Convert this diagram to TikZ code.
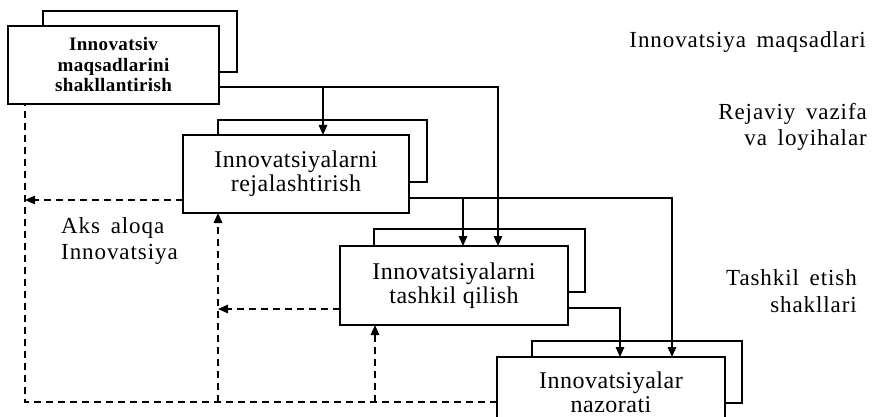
\documentclass[tikz,border=0pt]{standalone}
\usepackage{fontspec}
\setmainfont{Liberation Serif}[LetterSpace=2.0]
\newfontfamily\sidefont{Liberation Serif}[LetterSpace=4.0,WordSpace=1.6]
\usetikzlibrary{arrows.meta}

\tikzset{
  backbox/.style={draw, line width=1.5pt, inner sep=0pt, outer sep=0pt, anchor=north west},
  frontbox/.style={backbox, fill=white, align=center, font=\fontsize{24}{24}\selectfont},
  flow/.style={line width=1.5pt, -{Triangle[length=10pt,width=8.5pt]}},
  fbline/.style={line width=1.5pt, dash pattern=on 7pt off 5pt},
  feedback/.style={flow, dash pattern=on 7pt off 5pt},
  sidetext/.style={inner sep=0pt, font=\sidefont\fontsize{23}{26.5}\selectfont}
}

\begin{document}
\begin{tikzpicture}[x=1pt,y=-1pt]
  \useasboundingbox (0,0) rectangle (880,417);
  \clip (0,0) rectangle (880,417);
  % shadow boxes
  \node[backbox, minimum width=194pt, minimum height=61pt] (b1s) at (43,11) {};
  \node[backbox, minimum width=209pt, minimum height=62pt] (b2s) at (218,120) {};
  \node[backbox, minimum width=211pt, minimum height=63pt] (b3s) at (374,229) {};
  \node[backbox, minimum width=210pt, minimum height=62pt] (b4s) at (532,341) {};
  % stages
  \node[frontbox, minimum width=211pt, minimum height=78pt,
    font=\bfseries\fontsize{19}{20.5}\selectfont] (b1) at (8,26)
    {Innovatsiv\\maqsadlarini\\shakllantirish};
  \node[frontbox, minimum width=226pt, minimum height=78pt] (b2) at (183,135)
    {Innovatsiyalarni\\rejalashtirish};
  \node[frontbox, minimum width=228pt, minimum height=79pt] (b3) at (340,246)
    {Innovatsiyalarni\\tashkil qilish};
  \node[frontbox, minimum width=228pt, minimum height=70pt] (b4) at (497,357)
    {Innovatsiyalar\\nazorati};

  \coordinate (b1out) at ([yshift=17pt]b1.south east);
  \coordinate (b2out) at ([yshift=15pt]b2.south east);
  \coordinate (b3out) at ([yshift=17pt]b3.south east);
  \coordinate (in2) at ([xshift=140pt]b2.north west);
  \coordinate (in3a) at ([xshift=123pt]b3.north west);
  \coordinate (in3b) at ([xshift=158pt]b3.north west);
  \coordinate (in4a) at ([xshift=123pt]b4.north west);
  \coordinate (in4b) at ([xshift=175pt]b4.north west);

  \draw[flow] (b1out) -| (in3b);
  \draw[flow] (in2 |- b1out) -- (in2);
  \draw[flow] (b2out) -| (in4b);
  \draw[flow] (in3a |- b2out) -- (in3a);
  \draw[flow] (b3out) -| (in4a);

  % feedback
  \coordinate (loop) at (25,402);
  \coordinate (fb1) at ([xshift=17pt]b1.south west);
  \coordinate (fb2) at ([xshift=35pt]b2.south west);
  \coordinate (fb3) at ([xshift=35pt]b3.south west);
  \coordinate (ret2) at ([yshift=13pt]b2.south west);
  \coordinate (ret3) at ([yshift=16pt]b3.south west);
  \draw[fbline] (b4.west |- loop) -| (fb1);
  \draw[feedback] (fb2 |- loop) -- (fb2);
  \draw[feedback] (fb3 |- loop) -- (fb3);
  \draw[feedback] (ret2) -- (fb1 |- ret2);
  \draw[feedback] (ret3) -- (fb2 |- ret3);

  \node[sidetext, anchor=base east] (goals) at (866,48) {Innovatsiya maqsadlari};
  \node[sidetext, anchor=east, align=right] (tasks) at (867,127) {Rejaviy vazifa\\va loyihalar};
  \node[sidetext, anchor=east, align=right] (forms) at (857,291) {Tashkil etish\\shakllari};
  \node[sidetext, anchor=west, align=left] (fback) at (61,241) {Aks aloqa\\Innovatsiya};
\end{tikzpicture}
\end{document}
